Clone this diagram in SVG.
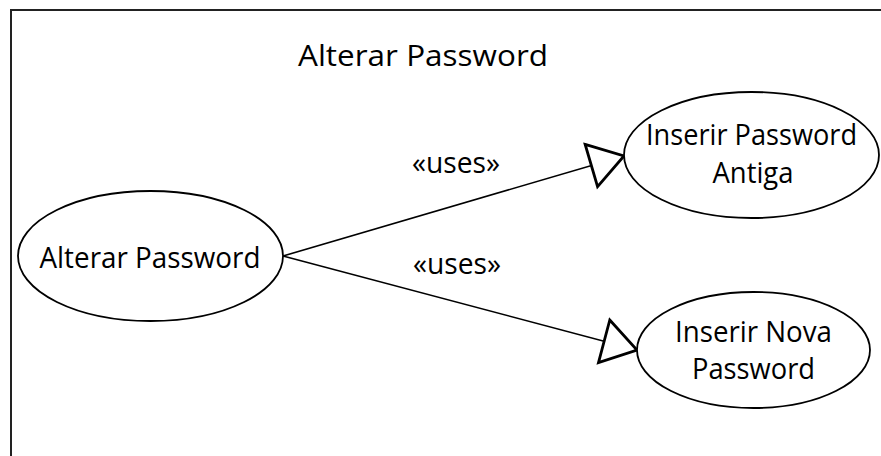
<svg xmlns="http://www.w3.org/2000/svg" width="881" height="456" viewBox="0 0 881 456">
<style>
.frame{fill:#fff;stroke:#222;stroke-width:2}
.uc{fill:#fff;stroke:#000;stroke-width:1.8}
.t{font-family:"Open Sans","Liberation Sans",sans-serif;font-size:29px;fill:#000;text-anchor:middle}
.conn{stroke:#000;stroke-width:1.6;fill:none}
</style>
<defs>
<marker id="tri" markerUnits="userSpaceOnUse" markerWidth="40" markerHeight="50" viewBox="-3 -25 40 50" refX="34" refY="0" orient="auto">
<path d="M0,-22 L34,0 L0,22 Z" fill="#fff" stroke="#000" stroke-width="2.8" stroke-linejoin="miter"/>
</marker>
</defs>
<rect class="frame" x="11" y="10" width="900" height="500"/>
<text class="t" x="423" y="66" font-size="32" textLength="250" lengthAdjust="spacingAndGlyphs">Alterar Password</text>
<g id="connectors">
<line class="conn" x1="283" y1="256" x2="624" y2="156" marker-end="url(#tri)"/>
<line class="conn" x1="283" y1="256" x2="637" y2="350" marker-end="url(#tri)"/>
<text class="t" x="456" y="173" textLength="88" lengthAdjust="spacingAndGlyphs">«uses»</text>
<text class="t" x="457" y="274" textLength="88" lengthAdjust="spacingAndGlyphs">«uses»</text>
</g>
<g id="alterar">
<ellipse class="uc" cx="150.5" cy="256" rx="132.5" ry="65"/>
<text class="t" x="150" y="268" textLength="221" lengthAdjust="spacingAndGlyphs">Alterar Password</text>
</g>
<g id="antiga">
<ellipse class="uc" cx="751.5" cy="155" rx="127.5" ry="63"/>
<text class="t" x="751.5" y="145" textLength="211" lengthAdjust="spacingAndGlyphs">Inserir Password</text>
<text class="t" x="753" y="183" textLength="81" lengthAdjust="spacingAndGlyphs">Antiga</text>
</g>
<g id="nova">
<ellipse class="uc" cx="753.5" cy="350" rx="116.5" ry="58"/>
<text class="t" x="753.5" y="342" textLength="157" lengthAdjust="spacingAndGlyphs">Inserir Nova</text>
<text class="t" x="753.5" y="379" textLength="123" lengthAdjust="spacingAndGlyphs">Password</text>
</g>
</svg>
